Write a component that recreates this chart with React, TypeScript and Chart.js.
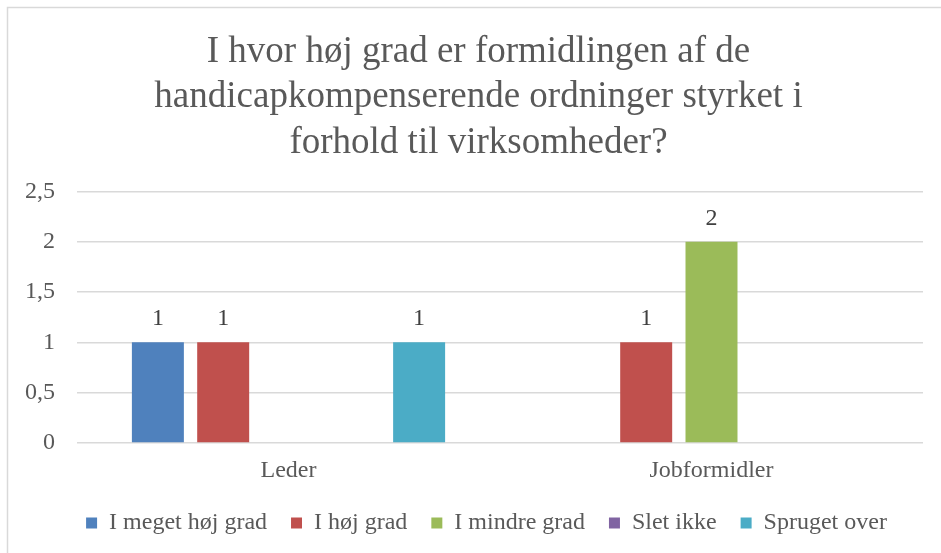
import React, { useEffect, useRef } from "react";
import { Chart, registerables } from "chart.js";

Chart.register(...registerables);

const categories = ["Leder", "Jobformidler"];
const seriesNames = ["I meget høj grad", "I høj grad", "I mindre grad", "Slet ikke", "Spruget over"];
const seriesColors = ["#4F81BD", "#C0504D", "#9BBB59", "#8064A2", "#4BACC6"];
const megetHoejGrad = [1, null];
const hoejGrad = [1, 1];
const mindreGrad = [null, 2];
const sletIkke = [null, null];
const sprugetOver = [1, null];
const seriesValues = [megetHoejGrad, hoejGrad, mindreGrad, sletIkke, sprugetOver];
const titleLines = [
  "I hvor høj grad er formidlingen af de",
  "handicapkompenserende ordninger styrket i",
  "forhold til virksomheder?",
];
const yTicksMax = 2.5;
const yTicksStep = 0.5;

const FONT = "'Liberation Serif', 'Times New Roman', serif";

const borderPlugin = {
  id: "frameBorder",
  beforeDraw(chart: any) {
    const ctx = chart.ctx;
    ctx.save();
    ctx.strokeStyle = "#d9d9d9";
    ctx.lineWidth = 1.5;
    ctx.beginPath();
    ctx.moveTo(7.5, chart.height);
    ctx.lineTo(7.5, 7.5);
    ctx.lineTo(chart.width, 7.5);
    ctx.stroke();
    ctx.restore();
  },
};

const shiftPlugin = {
  id: "shiftBoxes",
  afterLayout(chart: any) {
    if (chart.legend) {
      chart.legend.left += 25;
      chart.legend.right += 25;
    }
    if (chart.titleBlock) {
      chart.titleBlock.left += 17;
      chart.titleBlock.right += 17;
    }
  },
};

const dataLabelPlugin = {
  id: "dataLabels",
  afterDatasetsDraw(chart: any) {
    const ctx = chart.ctx;
    ctx.save();
    ctx.font = `24px ${FONT}`;
    ctx.fillStyle = "#404040";
    ctx.textAlign = "center";
    ctx.textBaseline = "alphabetic";
    chart.data.datasets.forEach((ds: any, i: number) => {
      const meta = chart.getDatasetMeta(i);
      meta.data.forEach((bar: any, j: number) => {
        const v = ds.data[j];
        if (v === null || v === undefined) return;
        ctx.fillText(String(v).replace(".", ","), bar.x, bar.y - 17);
      });
    });
    ctx.restore();
  },
};

export default function App() {
  const ref = useRef<HTMLCanvasElement>(null);
  useEffect(() => {
    if (!ref.current) return;
    const chart = new Chart(ref.current, {
      type: "bar",
      data: {
        labels: categories,
        datasets: seriesNames.map((name, i) => ({
          label: name,
          data: seriesValues[i],
          backgroundColor: seriesColors[i],
          borderWidth: 0,
          categoryPercentage: 0.772,
          barPercentage: 0.796,
        })),
      },
      options: {
        responsive: false,
        animation: false,
        layout: { padding: { left: 0, right: 18, top: 0, bottom: 8 } },
        plugins: {
          tooltip: { enabled: false },
          title: {
            display: true,
            text: titleLines,
            color: "#595959",
            font: { family: FONT, size: 37, weight: "normal", lineHeight: 1.22 },
            padding: { top: 30, bottom: 26 },
          },
          legend: {
            position: "bottom",
            labels: {
              boxWidth: 11,
              boxHeight: 11,
              padding: 24,
              color: "#595959",
              font: { family: FONT, size: 24 },
            },
          },
        },
        scales: {
          x: {
            grid: { display: false },
            border: { display: false },
            ticks: { color: "#595959", padding: 5, font: { family: FONT, size: 24 } },
            afterFit(scale: any) {
              scale.height = 44;
            },
          },
          y: {
            min: 0,
            max: yTicksMax,
            grid: { color: "#d9d9d9", lineWidth: 1.5, drawTicks: false },
            border: { display: false },
            ticks: {
              stepSize: yTicksStep,
              padding: 22,
              color: "#595959",
              font: { family: FONT, size: 24 },
              callback: (v: any) => String(v).replace(".", ","),
            },
            afterFit(scale: any) {
              scale.width = 77;
            },
          },
        },
      },
      plugins: [borderPlugin, shiftPlugin, dataLabelPlugin],
    } as any);
    return () => chart.destroy();
  }, []);
  return (
    <div style={{ position: "fixed", left: 0, top: 0, width: 941, height: 553, background: "#fff" }}>
      <canvas ref={ref} width={941} height={553} />
    </div>
  );
}
